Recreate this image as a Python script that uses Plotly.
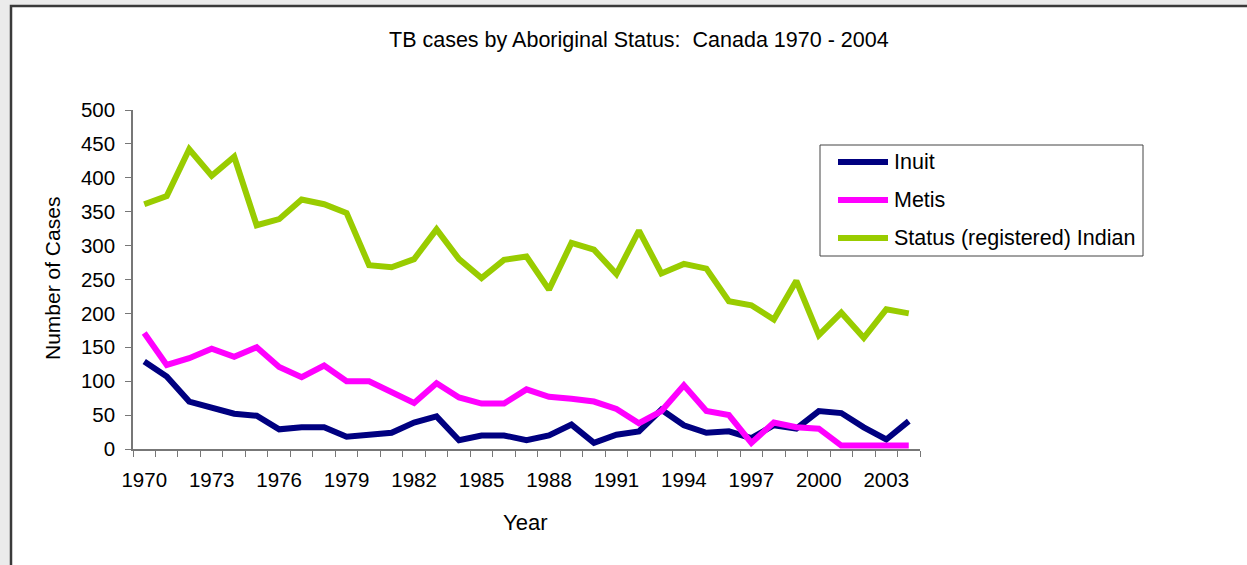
import plotly.graph_objects as go

years = list(range(1970, 2005))
inuit = [129, 107, 70, 60, 52, 49, 29, 32, 32, 18, 20, 24, 39, 48, 13, 20, 20, 13, 20, 36,
         9, 21, 26, 58, 35, 24, 26, 16, 35, 30, 56, 53, 32, 14, 41]
metis = [171, 124, 134, 148, 136, 150, 121, 106, 123, 100, 100, 83, 68, 97, 76, 67, 67, 88, 77, 74,
         70, 59, 38, 56, 94, 56, 50, 9, 39, 32, 30, 5, 5, 5, 5]
status_indian = [361, 373, 442, 403, 431, 330, 339, 368, 361, 348, 271, 268, 280, 324, 280, 252, 279, 284, 235, 304,
                 294, 258, 322, 259, 273, 266, 218, 212, 191, 248, 168, 201, 164, 206, 200]
series_names = ["Inuit", "Metis", "Status (registered) Indian"]
series_colors = ["#000080", "#FF00FF", "#99CC00"]
tick_years = list(range(1970, 2004, 3))

W, H = 1247, 565
L, R, T, B = 133, 920, 110, 449
pw, ph = R - L, B - T

def px(x):
    return (x - L) / pw

def py(y):
    return (B - y) / ph

FONT = "Liberation Sans, Arial, sans-serif"

fig = go.Figure()
for name, vals, col in zip(series_names, [inuit, metis, status_indian], series_colors):
    fig.add_trace(go.Scatter(x=years, y=vals, mode="lines", name=name,
                             line=dict(color=col, width=6), showlegend=False))

shapes = [
    dict(type="rect", xref="paper", yref="paper", x0=px(11), x1=px(1265), y0=py(585), y1=py(6),
         fillcolor="white", line=dict(color="#3a3a3a", width=2.5), layer="below"),
    dict(type="rect", xref="paper", yref="paper", x0=px(820), x1=px(1143), y0=py(256), y1=py(145),
         fillcolor="white", line=dict(color="#444444", width=1), layer="above"),
]
annotations = []
for i, (name, col) in enumerate(zip(series_names, series_colors)):
    yy = 162 + i * 38
    shapes.append(dict(type="line", xref="paper", yref="paper", x0=px(838), x1=px(888), y0=py(yy), y1=py(yy),
                       line=dict(color=col, width=6), layer="above"))
    annotations.append(dict(xref="paper", yref="paper", x=px(892), y=py(yy), text=name, showarrow=False,
                            xanchor="left", yanchor="middle", font=dict(family=FONT, size=21.5, color="black")))

annotations.append(dict(xref="paper", yref="paper", x=px(639), y=py(40), text="TB cases by Aboriginal Status:  Canada 1970 - 2004",
                        showarrow=False, xanchor="center", yanchor="middle",
                        font=dict(family=FONT, size=21.5, color="black")))
annotations.append(dict(xref="paper", yref="paper", x=px(525), y=py(522), text="Year",
                        showarrow=False, xanchor="center", yanchor="middle",
                        font=dict(family=FONT, size=22, color="black")))
annotations.append(dict(xref="paper", yref="paper", x=px(52), y=py(279), text="Number of Cases",
                        showarrow=False, xanchor="center", yanchor="middle", textangle=-90,
                        font=dict(family=FONT, size=21, color="black")))

fig.update_layout(
    width=W, height=H,
    margin=dict(l=L, r=W - R, t=T, b=H - B, pad=0),
    paper_bgcolor="#ebebeb", plot_bgcolor="rgba(0,0,0,0)",
    shapes=shapes, annotations=annotations, showlegend=False,
    xaxis=dict(range=[1969.5, 2004.5], tickmode="array", tickvals=tick_years,
               ticktext=[str(y) for y in tick_years], ticks="", showgrid=False, zeroline=False,
               showline=True, linecolor="#777777", linewidth=1.5,
               ticklabelstandoff=12,
               tickfont=dict(family=FONT, size=20.5, color="black"),
               minor=dict(tickmode="array", tickvals=[y - 0.5 for y in years] + [2004.5],
                          ticks="outside", ticklen=6, tickcolor="#777777", tickwidth=1.2, showgrid=False)),
    yaxis=dict(range=[0, 500], tickmode="linear", tick0=0, dtick=50, ticks="outside", ticklen=6,
               tickcolor="#777777", tickwidth=1.2, showgrid=False, zeroline=False,
               showline=True, linecolor="#777777", linewidth=1.5, ticklabelstandoff=6,
               tickfont=dict(family=FONT, size=20.5, color="black")),
)

fig.write_html("out.html", config={"displayModeBar": False},
               post_script="document.body.style.margin='0px';document.body.style.overflow='hidden';")
